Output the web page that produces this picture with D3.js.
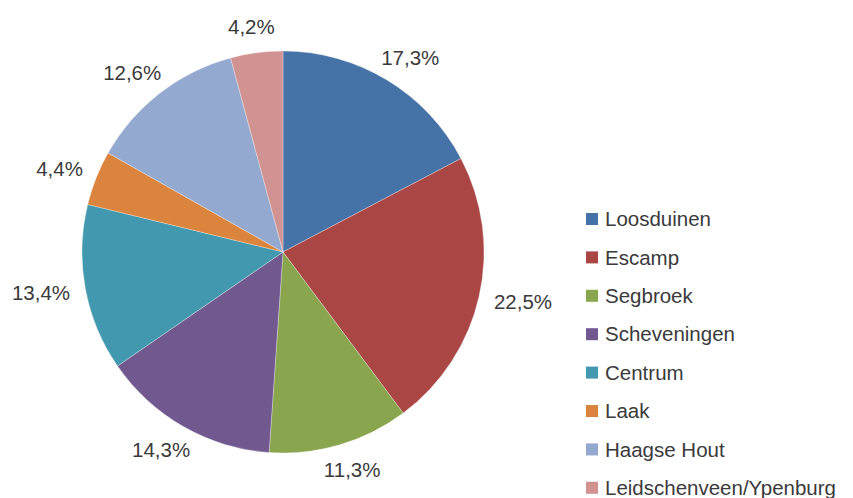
<!DOCTYPE html>
<html lang="nl">
    <head>
    	<meta charset="utf-8">
    	<title>Verdeling per stadsdeel</title>
    	<script type="text/javascript" src="https://cdn.jsdelivr.net/npm/d3@7/dist/d3.min.js"></script>
        <style type="text/css">
        body { margin: 0; background: #fff; }
        text { font-family: "Liberation Sans", Arial, sans-serif; fill: #3a3a3a; }
        </style>
    </head>
    <body>
    	<script type="text/javascript">

            //Width and height
    	    var w = 853;
    	    var h = 498;

            //Data
    	    var categories = ["Loosduinen", "Escamp", "Segbroek", "Scheveningen",
    	                      "Centrum", "Laak", "Haagse Hout", "Leidschenveen/Ypenburg"];
    	    var values = [17.3, 22.5, 11.3, 14.3, 13.4, 4.4, 12.6, 4.2];
    	    var labels = ["17,3%", "22,5%", "11,3%", "14,3%", "13,4%", "4,4%", "12,6%", "4,2%"];
    	    var colors = ["#4572A7", "#AA4643", "#89A54E", "#71588F",
    	                  "#4198AF", "#DB843D", "#93A9CF", "#D19392"];

    	    var cx = 283, cy = 252, r = 201;

    	    var svg = d3.select("body")
    	                .append("svg")
    	                .attr("width", w)
    	                .attr("height", h);

    	    var pie = d3.pie().sort(null).value(function(d) { return d; });
    	    var arc = d3.arc().innerRadius(0).outerRadius(r);
    	    var arcs = pie(values);

    	    var g = svg.append("g")
    	               .attr("transform", "translate(" + cx + "," + cy + ")");

    	    g.selectAll("path")
    	        .data(arcs)
    	        .enter()
    	        .append("path")
    	        .attr("d", arc)
    	        .attr("fill", function(d, i) { return colors[i]; })
    	        .attr("stroke", "#fff")
    	        .attr("stroke-width", 0.3);

            //Labels outside end
            var fs = 20.5;
    	    g.selectAll("text.lbl")
    	        .data(arcs)
    	        .enter()
    	        .append("text")
    	        .attr("class", "lbl")
    	        .attr("font-size", fs + "px")
    	        .attr("text-anchor", "middle")
    	        .attr("dy", "0.35em")
    	        .text(function(d, i) { return labels[i]; })
    	        .each(function(d) {
    	            var a = (d.startAngle + d.endAngle) / 2;
    	            var dx = Math.sin(a), dy = -Math.cos(a);
    	            var bw = this.getComputedTextLength();
    	            var bh = fs;
    	            var rr = r + 16;
    	            var x = dx * rr + dx * bw / 2;
    	            var y = dy * rr + dy * bh / 2;
    	            d3.select(this).attr("x", x).attr("y", y);
    	        });

            //Legend
            var legend = svg.selectAll(".legend")
                .data(categories)
                .enter()
                .append("g")
                .attr("class", "legend")
                .attr("transform", function(d, i) {
                    return "translate(586," + (219 + i * 38.4) + ")";
                });

            legend.append("rect")
                .attr("x", 0)
                .attr("y", -6)
                .attr("width", 12)
                .attr("height", 12)
                .attr("fill", function(d, i) { return colors[i]; });

            legend.append("text")
                .attr("x", 19)
                .attr("dy", "0.35em")
                .attr("font-size", "20.5px")
                .text(function(d) { return d; });

        </script>
    </body>
</html>
